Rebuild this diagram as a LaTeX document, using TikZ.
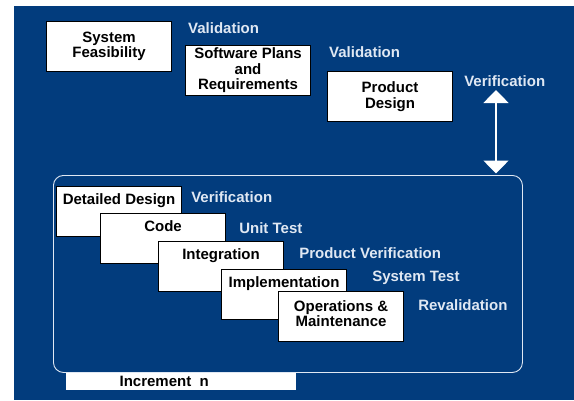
\documentclass[tikz,border=0pt]{standalone}
\usepackage{fontspec}
\setmainfont{Liberation Sans}
\usetikzlibrary{arrows.meta, positioning}

\definecolor{navy}{RGB}{2,60,125}
\definecolor{paleblue}{RGB}{224,232,243}

\begin{document}
\begin{tikzpicture}[
    x=1pt, y=-1pt,
    every node/.style={
        font=\bfseries\fontsize{15}{15.5}\selectfont,
        align=center
    },
    phase/.style={
        rectangle,
        draw=black,
        fill=white,
        line width=1.1pt,
        minimum width=125pt,
        minimum height=50pt,
        anchor=north west,
        inner sep=2pt
    },
    stage/.style={
        phase,
        inner sep=0pt
    },
    stagetext/.style={
        anchor=north,
        inner sep=0pt,
        yshift=-7pt
    },
    note/.style={
        text=paleblue,
        anchor=west,
        inner sep=0pt
    },
    cycle/.style={
        draw=paleblue,
        line width=0.9pt,
        rounded corners=10pt,
        minimum width=469pt,
        minimum height=197pt,
        anchor=north west
    },
    bar/.style={
        fill=white,
        minimum width=230pt,
        minimum height=17pt,
        anchor=north west,
        inner sep=0pt
    },
    link/.style={
        {Triangle[width=25pt,length=13pt]}-{Triangle[width=25pt,length=13pt]},
        draw=white,
        line width=1.6pt
    }
]

% page and background
\fill[white] (0,0) rectangle (574,400);
\fill[navy] (14,6) rectangle (574,400);

% front end phases
\node[phase] (feasibility) at (46,21) {System\\Feasibility};
\node[phase] (plans) at (185,45) {Software Plans\\and\\Requirements};
\node[phase] (product) at (327,71) {Product\\Design};

\node[note] (valid1) at ([xshift=3pt,yshift=17pt]plans.north west) {Validation};
\node[note] (valid2) at ([xshift=2pt,yshift=19pt]product.north west) {Validation};
\node[note] (verify1) at ([xshift=11pt,yshift=-10pt]product.north east) {Verification};

% increment block
\node[cycle] (increment) at (53,175) {};
\node[bar, label={[inner sep=0pt, xshift=-17pt]center:Increment~~n}] (incbar) at (66,373) {};

\coordinate (fbtop) at (496,90);
\draw[link, shorten >=1.5pt] (fbtop) -- (fbtop |- increment.north);

\node[stage, label={[stagetext]north:Detailed Design}] (design) at (56,186) {};
\node[stage, label={[stagetext]north:Code}] (code)
    at ([xshift=44pt,yshift=-27pt]design.north west) {};
\node[stage, label={[stagetext]north:Integration}] (integration)
    at ([xshift=58pt,yshift=-28pt]code.north west) {};
\node[stage, label={[stagetext]north:Implementation}] (implementation)
    at ([xshift=63pt,yshift=-28pt]integration.north west) {};
\node[stage, label={[stagetext, yshift=-2pt]north:Operations \&\\Maintenance}] (operations)
    at ([xshift=57pt,yshift=-22pt]implementation.north west) {};

\node[note] (verify2) at ([xshift=9pt,yshift=-11pt]design.north east) {Verification};
\node[note] (unittest) at ([xshift=13pt,yshift=-15pt]code.north east) {Unit Test};
\node[note] (prodverify) at ([xshift=15pt,yshift=-12pt]integration.north east) {Product Verification};
\node[note] (systest) at ([xshift=25pt,yshift=-9pt]implementation.north east) {System Test};
\node[note] (reval) at ([xshift=14pt,yshift=-14pt]operations.north east) {Revalidation};

\end{tikzpicture}
\end{document}
